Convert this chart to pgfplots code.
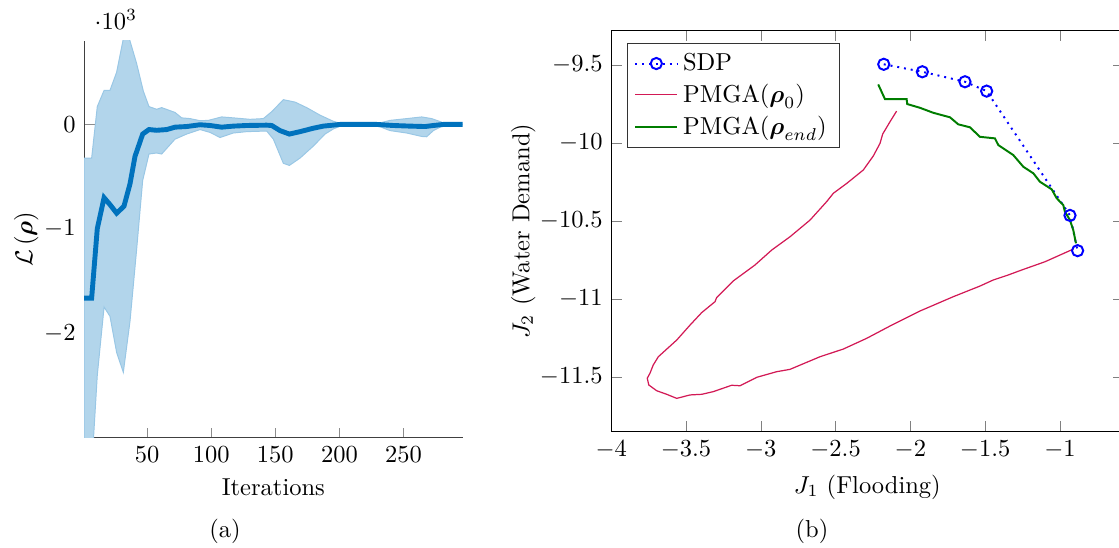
\documentclass[border=0pt]{standalone}
\usepackage{amsmath}
\usepackage{pgfplots}
\pgfplotsset{compat=1.18}
\definecolor{mblue}{RGB}{0,114,189}
\definecolor{pmgared}{RGB}{210,25,85}
\definecolor{pmgagreen}{RGB}{0,125,0}
\begin{document}
\begin{tikzpicture}
% ---------------- (a) ----------------
\begin{axis}[
  at={(34.37pt,44.9pt)}, anchor=south west,
  scale only axis, width=154.4pt, height=162.1pt,
  xmin=1, xmax=296, ymin=-3000, ymax=800,
  axis x line*=bottom, axis y line*=left,
  axis line style={black!75},
  tick style={black!45},
  tick align=inside,
  xtick={50,100,150,200,250},
  ytick={-2000,-1000,0},
  scaled y ticks=base 10:-3,
  every y tick scale label/.style={at={(rel axis cs:0,1)},anchor=base west,inner sep=0pt,xshift=4.1pt,yshift=4.6pt},
  xlabel={Iterations},
  ylabel={$\mathcal{L}\left(\boldsymbol{\rho}\right)$},
  ylabel style={yshift=-4.5pt},
  clip=true,
]
\addplot[fill=mblue!30, draw=mblue!40, line width=0.4pt] coordinates {
(1,-322) (6.8,-322) (11.2,171) (16.5,326) (21.1,326) (26.3,500) (31.5,820) (36.2,820)
(41.9,582) (47.1,319) (51.5,171) (57.5,145) (61.4,161) (71.8,115) (77,63) (83.5,56)
(91.3,36) (97.8,39) (108.2,72) (117.3,63) (130.3,49) (140.7,56) (147.2,122) (156.3,237)
(165.4,214) (174.5,161) (184.9,89) (195.3,30) (201.8,7) (229.1,7) (239.5,39) (252.5,56)
(264.2,72) (272,56) (281.1,16) (296,0)
(296,0) (281.1,-10) (273.3,-59) (268,-118) (264.2,-115) (252.5,-82) (239.5,-59) (229.1,-10)
(201.8,-10) (195.3,-43) (188.8,-92) (179.7,-207) (169.3,-322) (161,-392) (156.3,-372)
(148.5,-141) (143.3,-63) (127.7,-69) (117.3,-82) (106.9,-125) (99.1,-76) (91.3,-49)
(80.9,-92) (71.8,-141) (61.4,-283) (57.5,-273) (51.5,-283) (46.6,-536) (41.9,-1194)
(36.7,-1885) (31.5,-2372) (26.3,-2182) (21.1,-1836) (16.5,-1747) (11.2,-2400)
(6.8,-3300) (1,-3300)
} -- cycle;
\addplot[mblue, line width=2pt] coordinates {
(1,-1662) (6.8,-1662) (11.2,-997) (16.5,-701) (21.1,-767) (26.3,-849) (32,-783)
(36.7,-569) (40.6,-306) (46.6,-92) (51.5,-49) (57.5,-56) (65.3,-49) (71.8,-26)
(80.9,-20) (91.3,-3) (99.1,-10) (108.2,-26) (117.3,-16) (127.7,-10) (143.3,-7)
(147.2,-10) (153.7,-59) (161,-92) (169.3,-69) (179.7,-36) (187.5,-16) (200.5,0)
(229.1,0) (242,-10) (255,-16) (266.8,-20) (273.3,-10) (281.1,0) (296,0)
};
\end{axis}
% ---------------- (b) ----------------
\begin{axis}[
  at={(249.47pt,47.51pt)}, anchor=south west,
  scale only axis, width=209.1pt, height=163.6pt,
  xmin=-4, xmax=-0.575, ymin=-11.85, ymax=-9.28,
  xtick={-4,-3.5,-3,-2.5,-2,-1.5,-1},
  ytick={-11.5,-11,-10.5,-10,-9.5},
  xlabel={$J_1$ (Flooding)},
  ylabel={$J_2$ (Water Demand)},
  ylabel style={yshift=-5pt},
  legend pos=north west,
  legend cell align=left,
  legend style={draw=black!80},
]
\addplot[blue, dotted, thick, mark=o, mark options={solid, thick}, mark size=2.3pt] coordinates {
(-2.178,-9.495) (-1.920,-9.543) (-1.635,-9.607) (-1.490,-9.667) (-0.933,-10.464) (-0.882,-10.690)
};
\addlegendentry{SDP}
\addplot[pmgared, line width=0.5pt] coordinates {
(-2.092,-9.795) (-2.136,-9.863) (-2.185,-9.942) (-2.203,-10.002) (-2.248,-10.083)
(-2.315,-10.173) (-2.426,-10.259) (-2.515,-10.322) (-2.560,-10.376) (-2.671,-10.494)
(-2.805,-10.601) (-2.927,-10.686) (-3.039,-10.782) (-3.184,-10.884) (-3.295,-10.990)
(-3.306,-11.017) (-3.395,-11.087) (-3.473,-11.167) (-3.562,-11.263) (-3.685,-11.370)
(-3.719,-11.423) (-3.741,-11.476) (-3.759,-11.508) (-3.749,-11.551) (-3.696,-11.588)
(-3.629,-11.611) (-3.562,-11.637) (-3.473,-11.615) (-3.395,-11.611) (-3.318,-11.594)
(-3.195,-11.553) (-3.139,-11.556) (-3.027,-11.502) (-2.894,-11.466) (-2.805,-11.451)
(-2.604,-11.370) (-2.449,-11.321) (-2.292,-11.252) (-2.136,-11.173) (-1.936,-11.077)
(-1.713,-10.985) (-1.535,-10.917) (-1.446,-10.878) (-1.346,-10.846) (-1.256,-10.814)
(-1.100,-10.761) (-0.911,-10.680)
};
\addlegendentry{PMGA($\boldsymbol{\rho}_0$)}
\addplot[pmgagreen, line width=0.8pt] coordinates {
(-2.215,-9.624) (-2.170,-9.718) (-2.025,-9.718) (-2.021,-9.750) (-1.936,-9.774)
(-1.847,-9.806) (-1.735,-9.835) (-1.680,-9.880) (-1.602,-9.899) (-1.535,-9.960)
(-1.435,-9.970) (-1.412,-10.013) (-1.312,-10.077) (-1.245,-10.152) (-1.178,-10.194)
(-1.134,-10.248) (-1.055,-10.297) (-1.022,-10.354) (-0.978,-10.397) (-0.967,-10.440)
(-0.933,-10.494) (-0.911,-10.558) (-0.893,-10.643)
};
\addlegendentry{PMGA($\boldsymbol{\rho}_{end}$)}
\end{axis}
\node at (91.8pt,6.9pt) {(a)};
\node at (331.4pt,6.9pt) {(b)};
\pgfresetboundingbox
\path[use as bounding box] (0,0) rectangle (456.73pt,223.67pt);
\end{tikzpicture}
\end{document}
